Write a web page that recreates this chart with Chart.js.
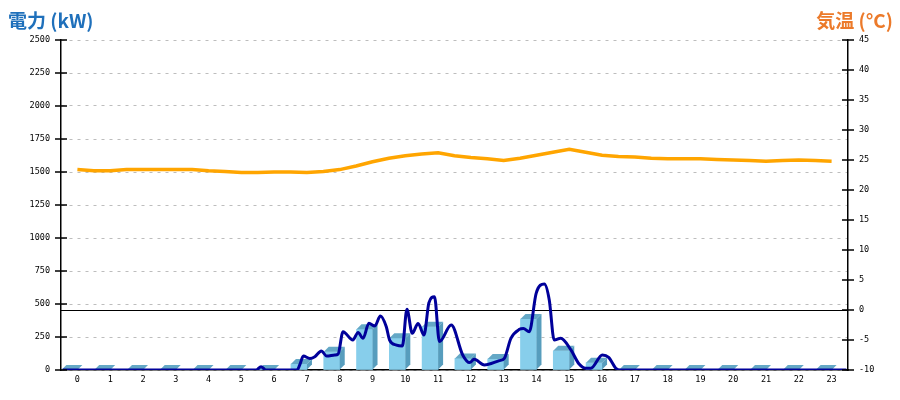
<!DOCTYPE html>
<html>
<head>
<meta charset="utf-8">
<script src="https://cdn.jsdelivr.net/npm/chart.js@4/dist/chart.umd.min.js"></script>
<style>
    body { margin: 0; background: #fff; }
    #wrap { position: relative; width: 900px; height: 400px; }
    .ttl { position: absolute; top: 6px; line-height: 1; font: bold 19px "Noto Sans CJK JP", sans-serif; }
</style>
</head>
<body>
<div id="wrap">
    <div class="ttl" style="left:8px;color:#1f70bb">電力 (kW)</div>
    <div class="ttl" style="right:7px;color:#ec7a2a">気温 (°C)</div>
    <canvas id="myChart" width="900" height="400"></canvas>
</div>
<script>
const HORAS = ['0','1','2','3','4','5','6','7','8','9','10','11','12','13','14','15','16','17','18','19','20','21','22','23']

// barras: consumo por hora (kW)
const BARRAS_KW = [0, 0, 0, 0, 0, 0, 0, 45, 139, 308, 240, 328, 88, 83, 386, 145, 55, 0, 0, 0, 0, 0, 0, 0]

// linea azul: potencia instantanea
const POT_HORA = [-0.45, 5.45, 5.6, 5.75, 6.7, 6.78, 6.89, 7.09, 7.24, 7.44, 7.6, 7.85, 7.95, 8.1, 8.4, 8.56, 8.71, 8.89,
    9.07, 9.24, 9.42, 9.52, 9.73, 9.91, 10.05, 10.21, 10.39, 10.57, 10.72, 10.89, 11.04, 11.4, 11.75, 11.96, 12.1, 12.41,
    12.87, 13.02, 13.22, 13.48, 13.6, 13.78, 13.99, 14.24, 14.39, 14.54, 14.74, 15.05, 15.3, 15.5, 15.66, 16.01, 16.2,
    16.42, 16.55, 23.45]
const POT_KW = [0, 0, 25, 0, 0, 38, 106, 88, 101, 144, 106, 114, 121, 290, 227, 285, 240, 354,
    333, 409, 328, 227, 189, 182, 460, 278, 353, 265, 510, 555, 215, 341, 114, 56, 81, 38,
    71, 88, 240, 308, 315, 290, 581, 651, 530, 227, 240, 152, 45, 13, 13, 114, 96,
    13, 0, 0]

// linea naranja: temperatura cada media hora
const TEMP_HORA = [0, 0.5, 1, 1.5, 2, 2.5, 3, 3.5, 4, 4.5, 5, 5.5, 6, 6.5, 7, 7.5, 8, 8.5, 9, 9.5, 10, 10.5, 11, 11.5,
    12, 12.5, 13, 13.5, 14, 14.5, 15, 15.5, 16, 16.5, 17, 17.5, 18, 18.5, 19, 19.5, 20, 20.5, 21, 21.5, 22, 22.5, 23]
const TEMP_C = [23.4, 23.2, 23.2, 23.4, 23.4, 23.4, 23.4, 23.4, 23.2, 23.1, 22.9, 22.9, 23.0, 23.0, 22.9, 23.1, 23.4, 24.0,
    24.7, 25.3, 25.7, 26.0, 26.2, 25.7, 25.4, 25.2, 24.9, 25.3, 25.8, 26.3, 26.8, 26.3, 25.8, 25.6, 25.5, 25.3, 25.2, 25.2,
    25.2, 25.1, 25.0, 24.9, 24.8, 24.9, 25.0, 24.9, 24.8]

const fuenteTicks = { family: 'DejaVu Sans Mono', size: 8.5 }

const barra3d = {
    id: 'barra3d',
    afterDatasetDraw(chart, args) {
        if (args.index !== 0) return
        const ctx = chart.ctx
        const d = 5
        ctx.save()
        args.meta.data.forEach(bar => {
            const { x, y, base, width } = bar.getProps(['x', 'y', 'base', 'width'], true)
            const l = x - width / 2
            const r = x + width / 2
            ctx.fillStyle = '#64a8c6'
            ctx.beginPath()
            ctx.moveTo(l, y)
            ctx.lineTo(l + d, y - d)
            ctx.lineTo(r + d, y - d)
            ctx.lineTo(r, y)
            ctx.closePath()
            ctx.fill()
            ctx.fillStyle = '#579dbd'
            ctx.beginPath()
            ctx.moveTo(r, y)
            ctx.lineTo(r + d, y - d)
            ctx.lineTo(r + d, base - d)
            ctx.lineTo(r, base)
            ctx.closePath()
            ctx.fill()
        })
        ctx.restore()
    }
}

const marcas = {
    id: 'marcas',
    afterDraw(chart) {
        const ctx = chart.ctx
        ctx.save()
        ctx.strokeStyle = '#000'
        ctx.lineWidth = 1.5
        ;['y', 'y1'].forEach(id => {
            const s = chart.scales[id]
            const ax = id === 'y' ? s.right : s.left
            s.ticks.forEach(t => {
                const py = Math.round(s.getPixelForValue(t.value))
                ctx.beginPath()
                ctx.moveTo(ax - 6, py)
                ctx.lineTo(ax + 6, py)
                ctx.stroke()
            })
        })
        ctx.restore()
    }
}

const ctx = document.getElementById('myChart').getContext('2d')

new Chart(ctx, {
    type: 'bar',
    data: {
        labels: HORAS,
        datasets: [{
            type: 'bar',
            data: BARRAS_KW,
            backgroundColor: '#87ceeb',
            barThickness: 16,
            yAxisID: 'y',
            xAxisID: 'x',
            order: 3
        }, {
            type: 'line',
            data: TEMP_HORA.map((h, i) => ({ x: h, y: TEMP_C[i] })),
            borderColor: '#ffa500',
            borderWidth: 3.5,
            pointRadius: 0,
            tension: 0,
            xAxisID: 'xl',
            yAxisID: 'y1',
            order: 2
        }, {
            type: 'line',
            data: POT_HORA.map((h, i) => ({ x: h, y: POT_KW[i] })),
            borderColor: '#00009a',
            borderWidth: 3,
            pointRadius: 0,
            cubicInterpolationMode: 'monotone',
            xAxisID: 'xl',
            yAxisID: 'y',
            order: 1
        }]
    },
    options: {
        responsive: false,
        animation: false,
        layout: { padding: { top: 40 } },
        plugins: { legend: { display: false }, tooltip: { enabled: false } },
        scales: {
            x: {
                type: 'category',
                offset: true,
                grid: { display: false, drawTicks: false },
                border: { display: true, color: '#000', width: 1.5 },
                ticks: { color: '#000', font: fuenteTicks, padding: 5, maxRotation: 0, autoSkip: false },
                afterFit: s => { s.height = 30 }
            },
            xl: {
                type: 'linear',
                position: 'bottom',
                min: -0.5,
                max: 23.5,
                offset: false,
                display: false
            },
            y: {
                position: 'left',
                min: 0,
                max: 2500,
                ticks: { stepSize: 250, color: '#000', font: fuenteTicks, padding: 11, callback: v => String(v) },
                grid: { color: '#bdbdbd', drawTicks: false },
                border: { display: true, color: '#000', width: 1.5, dash: [3, 5] },
                afterFit: s => { s.width = 61 }
            },
            y1: {
                position: 'right',
                min: -10,
                max: 45,
                ticks: { stepSize: 5, color: '#000', font: fuenteTicks, padding: 11, callback: v => String(v) },
                grid: {
                    drawTicks: false,
                    color: c => c.tick && c.tick.value === 0 ? '#000' : 'rgba(0,0,0,0)'
                },
                border: { display: true, color: '#000', width: 1.5 },
                afterFit: s => { s.width = 52 }
            }
        }
    },
    plugins: [barra3d, marcas]
})
</script>
</body>
</html>
